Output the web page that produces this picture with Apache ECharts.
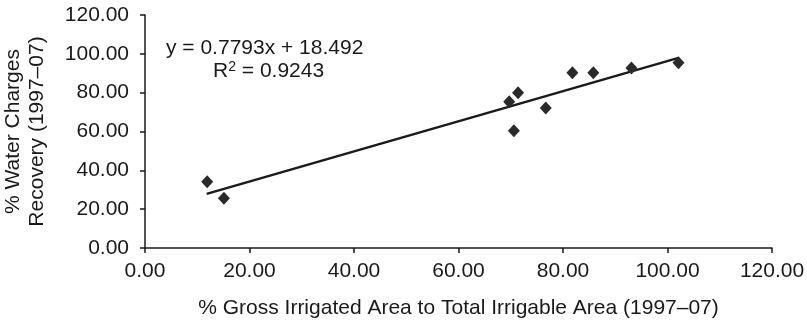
<!DOCTYPE html>
<html>
<head>
<meta charset="utf-8">
<script src="https://cdn.jsdelivr.net/npm/echarts@6/dist/echarts.min.js"></script>
<style>
  html, body { margin: 0; padding: 0; background: #fff; }
  #chart { width: 807px; height: 323px; }
</style>
</head>
<body>
<div id="chart"></div>
<script>
// % gross irrigated area to total irrigable area (x) vs % water charges recovery (y)
const areaPct = [11.9, 15.1, 69.7, 71.4, 70.6, 76.7, 81.8, 85.8, 93.1, 102.1];
const recoveryPct = [34.1, 25.6, 75.3, 80.0, 60.4, 72.1, 90.3, 90.3, 92.7, 95.4];

// linear trendline endpoints as drawn
const trendX = [11.8, 102.1];
const trendY = [27.9, 97.9];

const equationText = "y = 0.7793x + 18.492";
const r2Text = "0.9243";

const chart = echarts.init(document.getElementById("chart"));
const font = "Liberation Sans, Arial, sans-serif";

chart.setOption({
  backgroundColor: "#fff",
  animation: false,
  grid: {
    left: 145,
    right: 35,
    top: 15,
    bottom: 75,
    containLabel: false,
    outerBoundsMode: "none",
  },
  xAxis: {
    type: "value",
    min: 0,
    max: 120,
    interval: 20,
    name: "% Gross Irrigated Area to Total Irrigable Area (1997–07)",
    nameLocation: "middle",
    nameGap: 50,
    nameTextStyle: { fontFamily: font, fontSize: 21, color: "#1a1a1a" },
    axisLine: { lineStyle: { color: "#1a1a1a", width: 1.5 } },
    axisTick: { show: true, length: 5, lineStyle: { color: "#1a1a1a", width: 1.5 } },
    axisLabel: {
      margin: 13,
      fontFamily: font,
      fontSize: 21,
      color: "#1a1a1a",
      formatter: (v) => v.toFixed(2),
    },
    splitLine: { show: false },
  },
  yAxis: {
    type: "value",
    min: 0,
    max: 120,
    interval: 20,
    name: "% Water Charges\nRecovery (1997–07)",
    nameLocation: "middle",
    nameRotate: 90,
    nameGap: 96,
    nameTextStyle: { fontFamily: font, fontSize: 21, color: "#1a1a1a", lineHeight: 24 },
    axisLine: { show: true, onZero: false, lineStyle: { color: "#1a1a1a", width: 1.5 } },
    axisTick: { show: true, length: 5, lineStyle: { color: "#1a1a1a", width: 1.5 } },
    axisLabel: {
      margin: 16,
      fontFamily: font,
      fontSize: 21,
      color: "#1a1a1a",
      formatter: (v) => v.toFixed(2),
    },
    splitLine: { show: false },
  },
  graphic: [
    {
      type: "text",
      left: 166,
      top: 38,
      style: {
        text: equationText,
        fontFamily: font,
        fontSize: 21,
        fill: "#1a1a1a",
      },
    },
    {
      type: "text",
      left: 213,
      top: 60,
      style: {
        text: "R{sup|2} = " + r2Text,
        fontFamily: font,
        fontSize: 21,
        fill: "#1a1a1a",
        rich: {
          sup: { fontSize: 14, fontFamily: font, fill: "#1a1a1a", verticalAlign: "top", padding: [0, 0, 8, 0] },
        },
      },
    },
  ],
  series: [
    {
      name: "Trend",
      type: "line",
      data: trendX.map((x, i) => [x, trendY[i]]),
      symbol: "none",
      lineStyle: { color: "#1a1a1a", width: 2.5 },
      z: 2,
    },
    {
      name: "Recovery",
      type: "scatter",
      data: areaPct.map((x, i) => [x, recoveryPct[i]]),
      symbol: "diamond",
      symbolSize: [12, 13],
      itemStyle: { color: "#2a2a2a", opacity: 1 },
      z: 3,
    },
  ],
});

window.addEventListener("resize", () => chart.resize());
</script>
</body>
</html>
